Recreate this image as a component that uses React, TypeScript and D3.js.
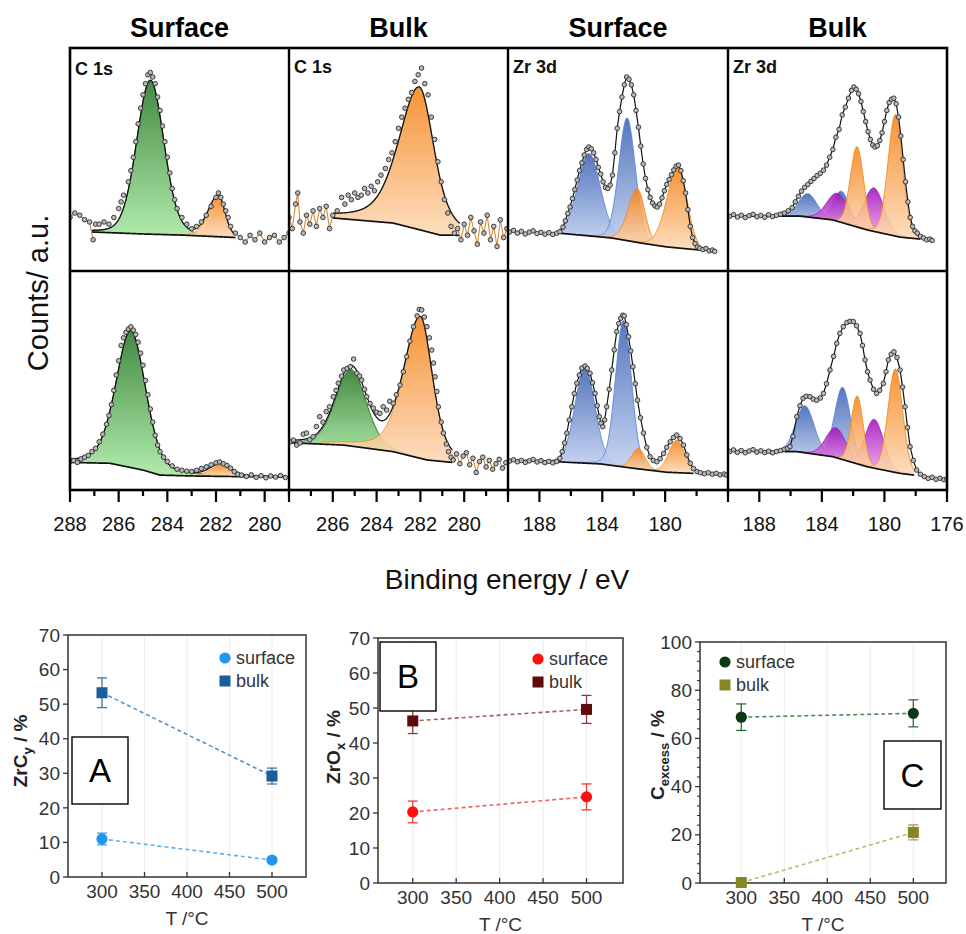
import * as d3 from "d3";
import * as React from "react";

type Pt = [number, number];
// species, centre (eV), height, hwhm toward higher BE, hwhm toward lower BE, lorentzian share
type Peak = [string, number, number, number, number, number];

// intensities are read in % of the panel height (0 = bottom edge of the panel)

// ---------- upper row ----------
const c1sSurfTopPts: Pt[] = [
  [288.0, 24], [287.8, 26], [287.6, 25], [287.4, 23], [287.2, 22], [287.05, 14], [286.95, 21],
  [286.8, 21], [286.6, 22], [286.4, 21], [286.2, 24], [286.0, 28], [285.9, 31], [285.8, 34],
  [285.6, 40], [285.5, 45], [285.4, 51], [285.3, 58], [285.2, 66], [285.1, 73], [285.0, 79],
  [284.9, 84], [284.8, 88], [284.7, 89], [284.6, 87], [284.5, 84], [284.4, 78], [284.3, 72],
  [284.2, 65], [284.1, 58], [284.0, 51], [283.9, 44], [283.8, 37], [283.7, 32], [283.6, 28],
  [283.4, 24], [283.2, 21], [283.0, 19], [282.8, 20], [282.6, 22], [282.4, 25], [282.2, 29],
  [282.0, 33], [281.9, 35], [281.8, 33], [281.7, 30], [281.6, 27], [281.5, 24], [281.4, 20],
  [281.2, 17], [281.0, 15], [280.8, 13], [280.6, 16], [280.4, 14], [280.2, 17], [280.0, 13],
  [279.8, 15], [279.6, 16], [279.4, 13], [279.2, 15], [279.0, 17],
];
const c1sSurfTopBg: Pt[] = [[287.1, 17.5], [285.0, 16.6], [283.4, 16.1], [281.2, 15.0]];
const c1sSurfTopPeaks: Peak[] = [
  ["CC", 284.7, 69, 0.66, 0.66, 0.15],
  ["ZrC", 281.9, 18, 0.5, 0.32, 0.1],
];

const c1sBulkTopPts: Pt[] = [
  [288.0, 24], [287.85, 19], [287.7, 30], [287.6, 35], [287.5, 22], [287.35, 17], [287.2, 25],
  [287.05, 21], [286.9, 27], [286.75, 20], [286.6, 28], [286.45, 24], [286.3, 29], [286.15, 19],
  [286.0, 25], [285.8, 27], [285.6, 33], [285.45, 30], [285.3, 34], [285.15, 32], [285.0, 35],
  [284.85, 33], [284.7, 34], [284.55, 37], [284.4, 35], [284.25, 38], [284.1, 36], [283.95, 40],
  [283.8, 43], [283.6, 46], [283.45, 50], [283.3, 53], [283.15, 58], [283.0, 64], [282.85, 69],
  [282.7, 73], [282.55, 77], [282.4, 80], [282.25, 85], [282.1, 88], [281.95, 91], [281.8, 84],
  [281.65, 79], [281.5, 69], [281.35, 59], [281.2, 49], [281.05, 40], [280.9, 32], [280.75, 26],
  [280.6, 20], [280.45, 17], [280.3, 19], [280.15, 14], [280.0, 21], [279.85, 16], [279.7, 24],
  [279.55, 18], [279.4, 12], [279.25, 22], [279.1, 17], [278.95, 25], [278.8, 14], [278.65, 20],
  [278.5, 11], [278.35, 23], [278.2, 15], [278.05, 19],
];
const c1sBulkTopBg: Pt[] = [[286.0, 23.8], [283.25, 21.5], [282.0, 18.4], [281.1, 16.1], [280.2, 16.0]];
const c1sBulkTopPeaks: Peak[] = [["ZrC", 282.05, 64, 1.1, 0.8, 0.45]];

const zrSurfTopPts: Pt[] = [
  [189.9, 17.5], [189.65, 18.2], [189.4, 17.0], [189.15, 17.8], [188.9, 16.6], [188.65, 17.4],
  [188.4, 18.0], [188.15, 16.8], [187.9, 17.3], [187.65, 16.5], [187.4, 17.2], [187.15, 16.4],
  [186.9, 17.0], [186.7, 17.6], [186.5, 19.7], [186.35, 22.5], [186.2, 25.8], [186.05, 28.7],
  [185.9, 32.5], [185.75, 36.5], [185.6, 40.8], [185.45, 45.0], [185.3, 48.5], [185.15, 52.0],
  [185.0, 54.5], [184.85, 55.6], [184.7, 54.8], [184.55, 53.0], [184.4, 50.0], [184.25, 46.5],
  [184.1, 43.5], [183.95, 40.0], [183.8, 37.5], [183.65, 37.0], [183.5, 38.5], [183.35, 43.0],
  [183.2, 53.0], [183.05, 64.0], [182.9, 71.5], [182.75, 78.0], [182.6, 83.5], [182.45, 87.0],
  [182.3, 86.0], [182.15, 83.5], [182.0, 79.0], [181.85, 72.0], [181.7, 64.5], [181.55, 56.0],
  [181.4, 48.0], [181.25, 41.5], [181.1, 36.5], [180.95, 33.0], [180.8, 30.5], [180.65, 29.2],
  [180.5, 28.7], [180.35, 30.0], [180.2, 32.8], [180.05, 36.0], [179.9, 38.8], [179.75, 41.0],
  [179.6, 43.2], [179.45, 45.3], [179.3, 47.0], [179.15, 47.5], [179.0, 45.0], [178.85, 40.5],
  [178.7, 35.0], [178.55, 27.5], [178.4, 20.0], [178.25, 15.0], [178.1, 12.3], [177.95, 10.8],
  [177.8, 10.2], [177.6, 9.6], [177.4, 10.1], [177.2, 9.0], [177.0, 9.4], [176.85, 8.8],
];
const zrSurfTopBg: Pt[] = [[186.8, 17], [183.4, 14.8], [181.6, 12.6], [179.9, 10.8], [177.8, 9.4]];
const zrSurfTopPeaks: Peak[] = [
  ["ZrO2", 184.84, 37, 0.85, 0.85, 0.1],
  ["ZrO2", 182.42, 55, 0.62, 0.62, 0.1],
  ["ZrC", 181.76, 24, 0.7, 0.55, 0.1],
  ["ZrC", 179.17, 36, 0.85, 0.67, 0.1],
];

const zrBulkTopPts: Pt[] = [
  [189.9, 24.5], [189.65, 25.3], [189.4, 24.2], [189.15, 25.0], [188.9, 24.0], [188.65, 24.8],
  [188.4, 25.4], [188.15, 24.3], [187.9, 24.9], [187.65, 24.1], [187.4, 25.2], [187.15, 24.4],
  [186.9, 25.0], [186.65, 25.5], [186.4, 26.0], [186.15, 27.0], [185.9, 28.4], [185.7, 31.0],
  [185.5, 33.5], [185.3, 35.8], [185.1, 37.5], [184.9, 38.8], [184.7, 40.2], [184.5, 41.5],
  [184.3, 42.8], [184.1, 43.8], [183.9, 45.2], [183.7, 47.5], [183.5, 51.0], [183.3, 54.5],
  [183.1, 60.0], [182.9, 63.5], [182.7, 70.0], [182.5, 73.5], [182.3, 77.5], [182.1, 81.0],
  [181.95, 82.5], [181.8, 81.5], [181.65, 79.5], [181.5, 76.0], [181.35, 71.5], [181.2, 67.0],
  [181.05, 62.5], [180.9, 59.0], [180.75, 56.5], [180.6, 55.6], [180.45, 56.2], [180.3, 58.5],
  [180.15, 62.0], [180.0, 67.0], [179.85, 72.0], [179.7, 75.5], [179.55, 77.0], [179.4, 77.5],
  [179.25, 75.0], [179.1, 69.0], [178.95, 60.5], [178.8, 50.0], [178.65, 40.0], [178.5, 31.0],
  [178.35, 24.0], [178.2, 20.0], [178.05, 18.0], [177.9, 17.0], [177.7, 15.5], [177.5, 14.8],
  [177.3, 14.0], [177.1, 14.3], [176.95, 13.7],
];
const zrBulkTopBg: Pt[] = [[189.9, 24.6], [185.4, 24.6], [183.3, 22.9], [181.1, 18.4], [179.0, 15.2], [177.7, 14.3]];
const zrBulkTopPeaks: Peak[] = [
  ["ZrO2", 184.9, 10.5, 0.7, 0.7, 0.1],
  ["ZrO2", 182.75, 14, 0.6, 0.6, 0.1],
  ["ZrOC", 183.0, 12.5, 0.8, 0.8, 0.1],
  ["ZrOC", 180.67, 19.5, 0.75, 0.75, 0.1],
  ["ZrC", 181.75, 36, 0.5, 0.5, 0.1],
  ["ZrC", 179.3, 54.5, 0.55, 0.55, 0.1],
];

// ---------- lower row ----------
const c1sSurfBotPts: Pt[] = [
  [288.0, 12.9], [287.85, 13.5], [287.7, 12.6], [287.55, 14.2], [287.4, 15.0], [287.25, 15.8],
  [287.1, 17.5], [286.95, 19.0], [286.8, 22.0], [286.65, 25.5], [286.5, 30.0], [286.4, 34.0],
  [286.3, 39.0], [286.2, 45.5], [286.1, 52.5], [286.0, 59.0], [285.9, 66.0], [285.8, 69.5],
  [285.7, 72.0], [285.6, 73.5], [285.5, 74.5], [285.4, 73.0], [285.3, 71.0], [285.2, 67.5],
  [285.1, 62.5], [285.0, 57.0], [284.9, 50.0], [284.8, 43.5], [284.7, 37.0], [284.6, 31.0],
  [284.5, 25.0], [284.4, 20.5], [284.3, 17.5], [284.15, 15.0], [284.0, 13.0], [283.8, 11.0],
  [283.6, 9.5], [283.4, 9.0], [283.2, 8.6], [283.0, 8.4], [282.8, 9.0], [282.6, 9.8],
  [282.4, 10.6], [282.2, 11.5], [282.0, 12.4], [281.85, 12.8], [281.7, 12.0], [281.55, 11.2],
  [281.4, 10.0], [281.25, 8.4], [281.1, 7.2], [280.95, 6.8], [280.75, 6.2], [280.55, 6.9],
  [280.35, 5.8], [280.15, 6.5], [279.95, 5.6], [279.75, 6.4], [279.55, 5.9], [279.35, 6.6],
  [279.15, 5.7],
];
const c1sSurfBotBg: Pt[] = [[288.0, 12.6], [286.36, 12.2], [285.0, 9.1], [284.3, 6.8], [282.95, 6.4], [281.0, 6.1], [279.1, 6.0]];
const c1sSurfBotPeaks: Peak[] = [
  ["CC", 285.5, 62.5, 0.72, 0.72, 0.3],
  ["ZrC", 281.8, 5.2, 0.5, 0.5, 0.1],
];

const c1sBulkBotPts: Pt[] = [
  [287.95, 22.0], [287.8, 22.8], [287.65, 20.5], [287.5, 21.5], [287.35, 25.5], [287.2, 26.0],
  [287.05, 23.0], [286.9, 24.3], [286.75, 29.0], [286.6, 33.5], [286.45, 31.0], [286.3, 35.8],
  [286.15, 38.0], [285.98, 42.6], [285.85, 45.5], [285.75, 48.8], [285.6, 52.0], [285.5, 54.8],
  [285.35, 55.5], [285.2, 56.3], [285.05, 59.8], [284.9, 53.3], [284.78, 52.0], [284.68, 50.2],
  [284.55, 46.0], [284.45, 42.6], [284.3, 39.5], [284.15, 37.4], [284.0, 35.5], [283.85, 35.0],
  [283.7, 38.0], [283.54, 36.5], [283.4, 40.5], [283.24, 39.6], [283.1, 43.5], [282.93, 47.9],
  [282.78, 54.0], [282.63, 60.9], [282.48, 68.0], [282.32, 74.6], [282.15, 79.5], [282.05, 82.5],
  [281.94, 82.2], [281.82, 79.0], [281.7, 74.6], [281.59, 69.5], [281.48, 63.9], [281.4, 58.0],
  [281.33, 51.7], [281.25, 45.0], [281.18, 38.0], [281.05, 31.0], [280.95, 26.0], [280.82, 21.0],
  [280.72, 17.5], [280.6, 15.0], [280.5, 13.7], [280.35, 16.5], [280.2, 12.0], [280.05, 15.5],
  [279.9, 17.0], [279.75, 11.5], [279.6, 14.5], [279.45, 8.0], [279.3, 13.0], [279.15, 15.0],
  [279.0, 10.5], [278.85, 13.5], [278.7, 9.5], [278.55, 12.0], [278.4, 14.0], [278.25, 10.0],
  [278.1, 12.5],
];
const c1sBulkBotBg: Pt[] = [[288.0, 21.6], [285.5, 20.5], [283.24, 17.5], [281.7, 13.7], [280.55, 12.6]];
const c1sBulkBotPeaks: Peak[] = [
  ["CC", 285.17, 35, 0.82, 0.82, 0.2],
  ["ZrC", 282.0, 64.4, 0.9, 0.65, 0.4],
];

const zrSurfBotPts: Pt[] = [
  [189.9, 13.2], [189.65, 13.8], [189.4, 12.9], [189.15, 13.5], [188.9, 12.6], [188.65, 13.3],
  [188.4, 13.9], [188.15, 12.8], [187.9, 13.4], [187.65, 12.5], [187.4, 13.1], [187.15, 12.4],
  [186.9, 13.0], [186.7, 14.5], [186.55, 17.5], [186.4, 21.5], [186.26, 26.0], [186.1, 32.0],
  [185.94, 38.0], [185.78, 44.0], [185.62, 48.8], [185.46, 52.5], [185.3, 55.7], [185.1, 56.6],
  [184.95, 55.5], [184.78, 53.3], [184.62, 49.0], [184.46, 44.1], [184.32, 38.5], [184.19, 33.5],
  [184.08, 30.5], [183.97, 28.9], [183.85, 32.0], [183.72, 38.0], [183.56, 46.0], [183.4, 54.8],
  [183.24, 64.0], [183.08, 72.3], [182.95, 76.0], [182.83, 78.4], [182.7, 79.8], [182.6, 79.5],
  [182.47, 75.5], [182.33, 70.0], [182.19, 63.5], [182.05, 56.3], [181.9, 48.5], [181.76, 41.0],
  [181.57, 33.0], [181.38, 26.0], [181.17, 19.5], [180.96, 15.2], [180.75, 13.5], [180.53, 12.9],
  [180.32, 14.3], [180.1, 16.7], [179.9, 19.5], [179.68, 22.0], [179.47, 24.0], [179.26, 25.1],
  [179.05, 23.5], [178.83, 20.5], [178.62, 16.0], [178.4, 12.2], [178.2, 9.8], [177.97, 8.4],
  [177.75, 7.9], [177.5, 7.4], [177.25, 7.9], [177.0, 7.2], [176.75, 7.6], [176.5, 6.9],
  [176.25, 7.3], [176.1, 6.8],
];
const zrSurfBotBg: Pt[] = [[190.0, 13.7], [186.9, 12.9], [184.1, 11.9], [182.0, 9.9], [179.9, 8.1], [178.2, 7.6]];
const zrSurfBotPeaks: Peak[] = [
  ["ZrO2", 185.1, 43.8, 0.75, 0.75, 0.1],
  ["ZrO2", 182.65, 66.8, 0.6, 0.6, 0.1],
  ["ZrC", 181.7, 9.3, 0.5, 0.5, 0.1],
  ["ZrC", 179.26, 14.8, 0.6, 0.6, 0.1],
];

const zrBulkBotPts: Pt[] = [
  [189.9, 17.6], [189.65, 18.3], [189.4, 17.2], [189.15, 18.0], [188.9, 17.0], [188.65, 17.8],
  [188.4, 18.4], [188.15, 17.3], [187.9, 17.9], [187.65, 17.1], [187.4, 17.7], [187.15, 17.0],
  [186.9, 17.6], [186.65, 18.0], [186.4, 18.6], [186.2, 19.0], [186.04, 19.8], [185.85, 24.5],
  [185.6, 33.5], [185.4, 38.5], [185.2, 41.9], [185.0, 42.8], [184.76, 42.6], [184.55, 41.5],
  [184.33, 41.0], [184.1, 42.0], [183.9, 44.1], [183.7, 48.5], [183.48, 54.8], [183.25, 61.0],
  [183.05, 67.0], [182.85, 71.5], [182.63, 74.6], [182.4, 76.5], [182.2, 77.0], [181.99, 76.9],
  [181.78, 75.0], [181.56, 71.5], [181.4, 66.0], [181.24, 59.4], [181.08, 54.0], [180.92, 50.2],
  [180.7, 46.0], [180.5, 44.1], [180.3, 45.5], [180.07, 48.7], [179.9, 54.0], [179.75, 59.4],
  [179.57, 62.0], [179.39, 63.1], [179.2, 60.5], [179.0, 54.8], [178.84, 47.0], [178.68, 38.0],
  [178.52, 28.5], [178.36, 19.8], [178.15, 13.5], [177.94, 9.1], [177.7, 7.2], [177.45, 6.1],
  [177.2, 5.3], [176.95, 5.8], [176.7, 4.9], [176.45, 5.4], [176.2, 4.7], [176.0, 5.1],
];
const zrBulkBotBg: Pt[] = [[190.0, 17.9], [185.6, 17.5], [183.3, 15.2], [181.1, 10.6], [179.0, 7.6], [178.1, 6.8]];
const zrBulkBotPeaks: Peak[] = [
  ["ZrO2", 185.08, 21.5, 0.7, 0.7, 0.1],
  ["ZrO2", 182.67, 33, 0.6, 0.6, 0.1],
  ["ZrOC", 183.1, 13.6, 0.75, 0.75, 0.1],
  ["ZrOC", 180.65, 22.3, 0.7, 0.7, 0.1],
  ["ZrC", 181.74, 31, 0.45, 0.45, 0.1],
  ["ZrC", 179.3, 47.3, 0.55, 0.55, 0.1],
];

const c1sLabelsA = [288, 286, 284, 282, 280];
const c1sLabelsB = [286, 284, 282, 280];
const zrLabelsA = [188, 184, 180];
const zrLabelsB = [188, 184, 180, 176];

// ---------- summary plots ----------
const temps = [300, 500];
const tempTicks = [300, 350, 400, 450, 500];
const zrcSurface = [11.0, 4.9];
const zrcSurfaceErr = [1.7, 0.5];
const zrcBulk = [53.3, 29.2];
const zrcBulkErr = [4.3, 2.3];
const zroSurface = [20.3, 24.6];
const zroSurfaceErr = [3.1, 3.7];
const zroBulk = [46.3, 49.6];
const zroBulkErr = [3.6, 4.0];
const cexSurface = [68.8, 70.4];
const cexSurfaceErr = [5.5, 5.6];
const cexBulk = [0.2, 21.0];
const cexBulkErr = [0.6, 3.1];

const FONT = "'Liberation Sans', Arial, Helvetica, sans-serif";
const colX = [70, 289, 508, 728, 947];
const rowY = [48, 271, 490];

const species = {
  CC: { top: "#2a792a", bottom: "#a6e9a0", stroke: "#1f6a1f" },
  ZrO2: { top: "#3d64b5", bottom: "#c4d2f0", stroke: "#5a86d8" },
  ZrOC: { top: "#a212ba", bottom: "#f3a8f3", stroke: "#a01cb4" },
  ZrC: { top: "#f5851c", bottom: "#fdd9b6", stroke: "#f08a1e" },
};
const drawOrder = ["CC", "ZrO2", "ZrOC", "ZrC"];

const spectra = [
  { row: 0, col: 0, range: [288, 279], label: "C 1s", pts: c1sSurfTopPts, bg: c1sSurfTopBg, peaks: c1sSurfTopPeaks, trace: "fit", step: 1, labels: c1sLabelsA },
  { row: 0, col: 1, range: [288, 278], label: "C 1s", pts: c1sBulkTopPts, bg: c1sBulkTopBg, peaks: c1sBulkTopPeaks, trace: "fit", step: 1, labels: c1sLabelsB },
  { row: 0, col: 2, range: [190, 176], label: "Zr 3d", pts: zrSurfTopPts, bg: zrSurfTopBg, peaks: zrSurfTopPeaks, trace: "data", step: 2, labels: zrLabelsA },
  { row: 0, col: 3, range: [190, 176], label: "Zr 3d", pts: zrBulkTopPts, bg: zrBulkTopBg, peaks: zrBulkTopPeaks, trace: "data", step: 2, labels: zrLabelsB },
  { row: 1, col: 0, range: [288, 279], label: "", pts: c1sSurfBotPts, bg: c1sSurfBotBg, peaks: c1sSurfBotPeaks, trace: "fit", step: 1, labels: c1sLabelsA },
  { row: 1, col: 1, range: [288, 278], label: "", pts: c1sBulkBotPts, bg: c1sBulkBotBg, peaks: c1sBulkBotPeaks, trace: "fit", step: 1, labels: c1sLabelsB },
  { row: 1, col: 2, range: [190, 176], label: "", pts: zrSurfBotPts, bg: zrSurfBotBg, peaks: zrSurfBotPeaks, trace: "data", step: 2, labels: zrLabelsA },
  { row: 1, col: 3, range: [190, 176], label: "", pts: zrBulkBotPts, bg: zrBulkBotBg, peaks: zrBulkBotPeaks, trace: "data", step: 2, labels: zrLabelsB },
];

function peakValue(p: Peak, e: number) {
  const [, c, h, hwHi, hwLo, m] = p;
  const t = (e - c) / (e > c ? hwHi : hwLo);
  return h * ((1 - m) * Math.exp(-Math.LN2 * t * t) + m / (1 + t * t));
}

const sampleRange = (a: number, b: number) => d3.range(a, b, 0.02).concat([b]);

function Spectrum({ s, idx }: { s: any; idx: number }) {
  const x = d3.scaleLinear().domain(s.range).range([colX[s.col], colX[s.col + 1]]);
  const y = d3.scaleLinear().domain([0, 100]).range([rowY[s.row + 1], rowY[s.row]]);
  const bgE = s.bg.map((d: Pt) => d[0]);
  const bgAt = d3.scaleLinear().domain(bgE).range(s.bg.map((d: Pt) => d[1])).clamp(true);
  const eHi = d3.max(bgE) as number;
  const eLo = d3.min(bgE) as number;

  const peaks = [...s.peaks].sort((a: Peak, b: Peak) => drawOrder.indexOf(a[0]) - drawOrder.indexOf(b[0]));
  const ptLine = d3.line<Pt>().x((d) => x(d[0])).y((d) => y(d[1]));
  const bgPath = d3.line<number>().x((e) => x(e)).y((e) => y(bgAt(e)))(sampleRange(eLo, eHi));

  let traces: React.ReactNode;
  if (s.trace === "fit") {
    const env = d3
      .line<number>()
      .x((e) => x(e))
      .y((e) => y(bgAt(e) + d3.sum(s.peaks, (p: Peak) => peakValue(p, e))))(sampleRange(eLo, eHi));
    const left = s.pts.filter((d: Pt) => d[0] >= eHi - 0.1);
    const right = s.pts.filter((d: Pt) => d[0] <= eLo + 0.1);
    traces = (
      <g>
        <path d={ptLine(left) || ""} fill="none" stroke="#d48a3a" strokeWidth={1.1} />
        <path d={ptLine(right) || ""} fill="none" stroke="#d48a3a" strokeWidth={1.1} />
        <path d={env || ""} fill="none" stroke="#111" strokeWidth={1.3} />
      </g>
    );
  } else {
    traces = <path d={ptLine(s.pts) || ""} fill="none" stroke="#111" strokeWidth={1.2} />;
  }

  return (
    <g clipPath={`url(#clip-${idx})`}>
      <rect x={colX[s.col]} y={rowY[s.row]} width={colX[s.col + 1] - colX[s.col]} height={rowY[s.row + 1] - rowY[s.row]} fill="#fff" />
      {peaks.map((p: Peak, i: number) => {
        const a = Math.max(eLo, p[1] - 5 * p[4]);
        const b = Math.min(eHi, p[1] + 5 * p[3]);
        const es = sampleRange(a, b);
        const area = d3
          .area<number>()
          .x((e) => x(e))
          .y0((e) => y(bgAt(e)))
          .y1((e) => y(bgAt(e) + peakValue(p, e)))(es);
        const top = d3
          .line<number>()
          .x((e) => x(e))
          .y((e) => y(bgAt(e) + peakValue(p, e)))(es);
        const sp = (species as any)[p[0]];
        return (
          <g key={i}>
            <path d={area || ""} fill={`url(#grad-${p[0]})`} fillOpacity={0.88} />
            <path d={top || ""} fill="none" stroke={sp.stroke} strokeWidth={0.9} />
          </g>
        );
      })}
      <path d={bgPath || ""} fill="none" stroke="#111" strokeWidth={1.7} />
      {traces}
      {s.pts.map((d: Pt, i: number) => (
        <circle key={i} cx={x(d[0])} cy={y(d[1])} r={2.3} fill="#b8b8b8" stroke="#2a2a2a" strokeWidth={0.9} />
      ))}
      {s.label && (
        <text x={colX[s.col] + (s.col === 0 ? 5 : 5)} y={rowY[0] + (s.col === 0 ? 27 : 25)} fontFamily={FONT} fontWeight="bold" fontSize={18} fill="#111">
          {s.label}
        </text>
      )}
    </g>
  );
}

function SpectrumAxis({ s }: { s: any }) {
  const x = d3.scaleLinear().domain(s.range).range([colX[s.col], colX[s.col + 1]]);
  const ticks = d3.range(s.range[0], s.range[1] - 0.01, -s.step);
  const base = rowY[2];
  return (
    <g>
      {ticks.map((t: number) => {
        const major = s.step === 1 ? t % 2 === 0 : t % 4 === 0;
        return <line key={t} x1={x(t)} x2={x(t)} y1={base} y2={base + (major ? 12 : 6)} stroke="#000" strokeWidth={2.2} />;
      })}
      {s.labels.map((t: number) => (
        <text key={t} x={x(t)} y={base + 41} textAnchor="middle" fontFamily={FONT} fontSize={20} fill="#111">
          {t}
        </text>
      ))}
    </g>
  );
}

type Series = { name: string; shape: string; vals: number[]; errs: number[]; color: string; errColor: string; lineColor: string };

function Trend(props: any) {
  const { left, right, top, bottom, xDom, yMax, yMajor, yMinor, sets, yLabel, yLabelX, yLabelY, letter, box, legend } = props;
  const x = d3.scaleLinear().domain(xDom).range([left, right]);
  const y = d3.scaleLinear().domain([0, yMax]).range([bottom, top]);
  const yTicks = d3.range(0, yMax + 0.1, yMajor);
  const yMinorTicks = yMinor ? d3.range(0, yMax + 0.1, yMinor).filter((v: number) => v % yMajor !== 0) : [];
  const marker = (shape: string, cx: number, cy: number, color: string) =>
    shape === "circle" ? (
      <circle cx={cx} cy={cy} r={5.6} fill={color} />
    ) : (
      <rect x={cx - 5.5} y={cy - 5.5} width={11} height={11} fill={color} />
    );
  return (
    <g fontFamily={FONT}>
      {tempTicks.map((t) => (
        <line key={t} x1={x(t)} x2={x(t)} y1={top} y2={bottom} stroke="#ececec" strokeWidth={1} />
      ))}
      <rect x={left} y={top} width={right - left} height={bottom - top} fill="none" stroke="#333" strokeWidth={1.5} />
      {yTicks.map((t: number) => (
        <g key={t}>
          <line x1={left - 5} x2={left} y1={y(t)} y2={y(t)} stroke="#333" strokeWidth={1.3} />
          <text x={left - 8} y={y(t)} dy="0.35em" textAnchor="end" fontSize={19} fill="#333">
            {t}
          </text>
        </g>
      ))}
      {yMinorTicks.map((t: number) => (
        <line key={t} x1={left - 3} x2={left} y1={y(t)} y2={y(t)} stroke="#333" strokeWidth={1.1} />
      ))}
      {tempTicks.map((t) => (
        <g key={t}>
          <line x1={x(t)} x2={x(t)} y1={bottom} y2={bottom - 5} stroke="#333" strokeWidth={1.3} />
          <text x={x(t)} y={bottom + 21} textAnchor="middle" fontSize={19} fill="#333">
            {t}
          </text>
        </g>
      ))}
      <text x={(left + right) / 2} y={bottom + 48} textAnchor="middle" fontSize={19} fill="#333">
        T /°C
      </text>
      <text transform={`translate(${yLabelX},${yLabelY}) rotate(-90)`} dy="0.35em" textAnchor="middle" fontSize={19} fontWeight="bold" fill="#222">
        {yLabel[0]}
        <tspan fontSize={13} dy="5">{yLabel[1]}</tspan>
        <tspan dy="-5">{yLabel[2]}</tspan>
      </text>
      {sets.map((s: Series) => (
        <g key={s.name}>
          <line x1={x(temps[0])} x2={x(temps[1])} y1={y(s.vals[0])} y2={y(s.vals[1])} stroke={s.lineColor} strokeWidth={1.6} strokeDasharray="4 3" />
          {temps.map((t, i) => (
            <g key={t}>
              <line x1={x(t)} x2={x(t)} y1={y(s.vals[i] - s.errs[i])} y2={y(s.vals[i] + s.errs[i])} stroke={s.errColor} strokeWidth={1.3} />
              <line x1={x(t) - 5} x2={x(t) + 5} y1={y(s.vals[i] - s.errs[i])} y2={y(s.vals[i] - s.errs[i])} stroke={s.errColor} strokeWidth={1.3} />
              <line x1={x(t) - 5} x2={x(t) + 5} y1={y(s.vals[i] + s.errs[i])} y2={y(s.vals[i] + s.errs[i])} stroke={s.errColor} strokeWidth={1.3} />
              {marker(s.shape, x(t), y(s.vals[i]), s.color)}
            </g>
          ))}
        </g>
      ))}
      {sets.map((s: Series, i: number) => (
        <g key={s.name}>
          {marker(s.shape, legend.x, legend.y + i * 23, s.color)}
          <text x={legend.x + 11} y={legend.y + i * 23} dy="0.35em" fontSize={18} fill="#333">
            {s.name}
          </text>
        </g>
      ))}
      <rect x={box[0]} y={box[1]} width={box[2]} height={box[3]} fill="#fff" stroke="#000" strokeWidth={1.4} />
      <text x={box[0] + box[2] / 2} y={box[1] + box[3] / 2} dy="0.36em" textAnchor="middle" fontSize={33} fill="#000">
        {letter}
      </text>
    </g>
  );
}

export default function App() {
  const titles = [
    { text: "Surface", col: 0 },
    { text: "Bulk", col: 1 },
    { text: "Surface", col: 2 },
    { text: "Bulk", col: 3 },
  ];
  return (
    <svg width={966} height={934} style={{ position: "absolute", left: 0, top: 0, background: "#fff" }}>
      <defs>
        {Object.entries(species).map(([k, c]) => (
          <linearGradient key={k} id={`grad-${k}`} x1="0" y1="0" x2="0" y2="1">
            <stop offset="0" stopColor={c.top} />
            <stop offset="1" stopColor={c.bottom} />
          </linearGradient>
        ))}
        {spectra.map((s, i) => (
          <clipPath key={i} id={`clip-${i}`}>
            <rect x={colX[s.col]} y={rowY[s.row]} width={colX[s.col + 1] - colX[s.col]} height={rowY[s.row + 1] - rowY[s.row]} />
          </clipPath>
        ))}
      </defs>
      <rect width={966} height={934} fill="#fff" />
      {titles.map((t) => (
        <text key={t.col} x={(colX[t.col] + colX[t.col + 1]) / 2} y={37} textAnchor="middle" fontFamily={FONT} fontWeight="bold" fontSize={27} fill="#000">
          {t.text}
        </text>
      ))}
      {spectra.map((s, i) => (
        <Spectrum key={i} s={s} idx={i} />
      ))}
      <rect x={colX[0]} y={rowY[0]} width={colX[4] - colX[0]} height={rowY[2] - rowY[0]} fill="none" stroke="#000" strokeWidth={2.6} />
      {[1, 2, 3].map((c) => (
        <line key={c} x1={colX[c]} x2={colX[c]} y1={rowY[0]} y2={rowY[2]} stroke="#000" strokeWidth={2.4} />
      ))}
      <line x1={colX[0]} x2={colX[4]} y1={rowY[1]} y2={rowY[1]} stroke="#000" strokeWidth={2.4} />
      {spectra.filter((s) => s.row === 1).map((s, i) => (
        <SpectrumAxis key={i} s={s} />
      ))}
      <text transform="translate(38,293) rotate(-90)" dy="0.35em" textAnchor="middle" fontFamily={FONT} fontSize={29} fill="#111">
        Counts/ a.u.
      </text>
      <text x={507} y={589} textAnchor="middle" fontFamily={FONT} fontSize={28} fill="#111">
        Binding energy / eV
      </text>

      <Trend
        left={68} right={306} top={635} bottom={877} xDom={[260, 540]} yMax={70} yMajor={10} yMinor={0}
        yLabel={["ZrC", "y", " / %"]} yLabelX={20} yLabelY={751} letter="A" box={[72, 737, 56, 67]}
        legend={{ x: 225, y: 658 }}
        sets={[
          { name: "surface", shape: "circle", vals: zrcSurface, errs: zrcSurfaceErr, color: "#1f97ee", errColor: "#3aa4f0", lineColor: "#5ab2f2" },
          { name: "bulk", shape: "square", vals: zrcBulk, errs: zrcBulkErr, color: "#1b5e9c", errColor: "#3a78b0", lineColor: "#5b8fbf" },
        ]}
      />
      <Trend
        left={378} right={623} top={638} bottom={883} xDom={[260, 542]} yMax={70} yMajor={10} yMinor={0}
        yLabel={["ZrO", "x", " / %"]} yLabelX={333} yLabelY={747} letter="B" box={[380, 642, 56, 69]}
        legend={{ x: 538, y: 659 }}
        sets={[
          { name: "surface", shape: "circle", vals: zroSurface, errs: zroSurfaceErr, color: "#ff1010", errColor: "#f03a3a", lineColor: "#f06060" },
          { name: "bulk", shape: "square", vals: zroBulk, errs: zroBulkErr, color: "#5c0c0c", errColor: "#8a3a3a", lineColor: "#a06060" },
        ]}
      />
      <Trend
        left={700} right={946} top={642} bottom={883} xDom={[252, 538]} yMax={100} yMajor={20} yMinor={4}
        yLabel={["C", "excess", " / %"]} yLabelX={657} yLabelY={755} letter="C" box={[884, 741, 57, 68]}
        legend={{ x: 725, y: 662 }}
        sets={[
          { name: "surface", shape: "circle", vals: cexSurface, errs: cexSurfaceErr, color: "#0c3a12", errColor: "#2f6a35", lineColor: "#4e8a55" },
          { name: "bulk", shape: "square", vals: cexBulk, errs: cexBulkErr, color: "#878526", errColor: "#a3a14a", lineColor: "#b9b878" },
        ]}
      />
    </svg>
  );
}
